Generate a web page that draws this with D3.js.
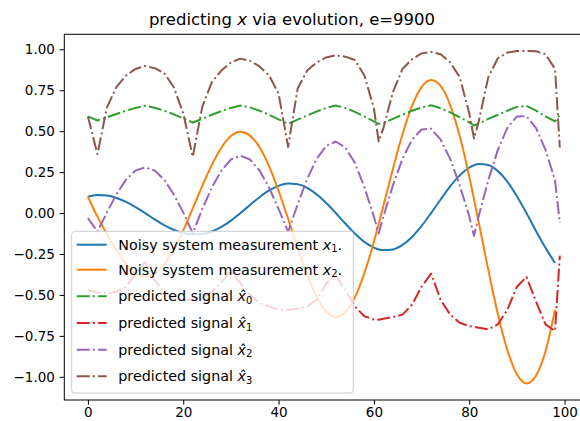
<!DOCTYPE html>
<html>
<head>
<meta charset="utf-8">
<script src="https://cdn.jsdelivr.net/npm/d3@7"></script>
<style>
  body { margin: 0; background: #fff; }
  svg { display: block; font-family: "DejaVu Sans", sans-serif; }
</style>
</head>
<body>
<div id="chart"></div>
<script>
// sample positions (time step)
const xs = [0, 2, 4, 6, 8, 10, 12, 14, 16, 18, 20, 22, 24, 26, 28, 30, 32, 34, 36, 38, 40,
    42, 44, 46, 48, 50, 52, 54, 56, 58, 60, 61, 62, 64, 66, 68, 70, 72, 74, 76, 78, 80,
    81, 82, 84, 86, 88, 90, 92, 94, 96, 98, 99];

// measured states (no sample at 99)
const x1 = [0.100, 0.110, 0.107, 0.092, 0.068, 0.036, 0.000, -0.038, -0.073, -0.102, -0.122,
    -0.130, -0.128, -0.113, -0.085, -0.046, 0.000, 0.049, 0.097, 0.138, 0.166,
    0.180, 0.176, 0.154, 0.114, 0.061, 0.000, -0.064, -0.125, -0.176, -0.211, -0.222, -0.226,
    -0.222, -0.194, -0.146, -0.079, 0.000, 0.083, 0.163, 0.230, 0.278,
    0.292, 0.299, 0.293, 0.256, 0.192, 0.103, 0.000, -0.109, -0.212, -0.305, null];
const x2 = [0.100, -0.022, -0.129, -0.229, -0.311, -0.366, -0.387, -0.369, -0.314, -0.224, -0.107,
    0.028, 0.166, 0.294, 0.399, 0.470, 0.496, 0.473, 0.402, 0.287, 0.136,
    -0.035, -0.212, -0.376, -0.511, -0.601, -0.635, -0.606, -0.515, -0.367, -0.175, -0.065, 0.045,
    0.271, 0.481, 0.654, 0.769, 0.812, 0.776, 0.659, 0.470, 0.224,
    0.085, -0.058, -0.347, -0.616, -0.837, -0.985, -1.040, -0.993, -0.844, -0.590, null];

// predicted signals
const xhat0 = [0.590, 0.565, 0.585, 0.605, 0.625, 0.642, 0.655, 0.643, 0.625, 0.603, 0.578,
    0.553, 0.575, 0.600, 0.622, 0.642, 0.657, 0.645, 0.625, 0.600, 0.572,
    0.545, 0.570, 0.596, 0.620, 0.642, 0.657, 0.642, 0.618, 0.590, 0.560, 0.545, 0.550,
    0.575, 0.600, 0.625, 0.645, 0.658, 0.640, 0.615, 0.585, 0.553,
    0.535, 0.545, 0.575, 0.600, 0.625, 0.648, 0.655, 0.625, 0.590, 0.560, 0.600];
const xhat1 = [-0.47, -0.485, -0.49, -0.48, -0.45, -0.37, -0.30, -0.41, -0.48, -0.52, -0.53,
    -0.53, -0.52, -0.48, -0.42, -0.355, -0.43, -0.50, -0.55, -0.57, -0.59,
    -0.59, -0.585, -0.57, -0.53, -0.43, -0.38, -0.47, -0.57, -0.63, -0.65, -0.652, -0.645,
    -0.635, -0.62, -0.56, -0.45, -0.37, -0.53, -0.62, -0.67, -0.69,
    -0.695, -0.70, -0.71, -0.68, -0.59, -0.45, -0.39, -0.54, -0.68, -0.72, -0.26];
const xhat2 = [-0.030, -0.114, 0.004, 0.115, 0.204, 0.260, 0.279, 0.260, 0.204, 0.115, 0.004,
    -0.124, 0.025, 0.156, 0.260, 0.327, 0.350, 0.327, 0.260, 0.156, 0.025,
    -0.114, 0.052, 0.208, 0.331, 0.410, 0.437, 0.400, 0.307, 0.159, -0.023, -0.124, -0.020,
    0.170, 0.331, 0.448, 0.510, 0.515, 0.448, 0.331, 0.170, -0.020,
    -0.140, -0.016, 0.200, 0.386, 0.520, 0.590, 0.592, 0.520, 0.386, 0.200, -0.060];
const xhat3 = [0.59, 0.36, 0.645, 0.77, 0.84, 0.88, 0.898, 0.885, 0.855, 0.77, 0.61,
    0.343, 0.65, 0.80, 0.87, 0.92, 0.943, 0.93, 0.895, 0.84, 0.73,
    0.404, 0.76, 0.87, 0.92, 0.95, 0.963, 0.955, 0.935, 0.84, 0.64, 0.437, 0.52,
    0.74, 0.88, 0.94, 0.975, 0.984, 0.97, 0.92, 0.83, 0.61,
    0.455, 0.56, 0.83, 0.945, 0.98, 0.99, 0.99, 0.988, 0.97, 0.88, 0.40];

const seriesNames = ["x1", "x2", "xhat0", "xhat1", "xhat2", "xhat3"];
const seriesValues = [x1, x2, xhat0, xhat1, xhat2, xhat3];
const legendBase = ["Noisy system measurement ", "Noisy system measurement ",
    "predicted signal ", "predicted signal ", "predicted signal ", "predicted signal "];
const legendSub = ["1", "2", "0", "1", "2", "3"];
const legendHat = [false, false, true, true, true, true];
const legendTail = [".", ".", "", "", "", ""];

const xTicks = [0, 20, 40, 60, 80, 100];
const yTicks = [-1.0, -0.75, -0.5, -0.25, 0, 0.25, 0.5, 0.75, 1.0];

const colors = ["#1f77b4", "#ff7f0e", "#2ca02c", "#d62728", "#9467bd", "#8c564b"];
const dashes = [null, null, "13,3.2,2,3.2", "13,3.2,2,3.2", "13,3.2,2,3.2", "13,3.2,2,3.2"];

const width = 580;
const height = 421;
const plot = { left: 64.3, top: 34.3, right: 583.4, bottom: 400 };

const svg = d3.select("#chart").append("svg")
    .attr("width", width)
    .attr("height", height);

const x = d3.scaleLinear().domain([-4.95, 103.95]).range([plot.left, plot.right]);
const y = d3.scaleLinear().domain([-1.1415, 1.0915]).range([plot.bottom, plot.top]);

// lines
const line = d3.line()
    .defined(d => d[1] !== null)
    .x(d => x(d[0]))
    .y(d => y(d[1]));

seriesValues.forEach((vals, i) => {
    svg.append("path")
        .attr("class", "series " + seriesNames[i])
        .datum(xs.map((t, j) => [t, vals[j]]))
        .attr("fill", "none")
        .attr("stroke", colors[i])
        .attr("stroke-width", 2)
        .attr("stroke-dasharray", dashes[i])
        .attr("stroke-linejoin", "round")
        .attr("d", line.curve(i < 2 ? d3.curveMonotoneX : d3.curveLinear));
});

// axes
const xAxis = svg.append("g")
    .attr("transform", `translate(0,${plot.bottom})`)
    .call(d3.axisBottom(x).tickValues(xTicks).tickSize(4.7).tickSizeOuter(0).tickPadding(4.5));
const yAxis = svg.append("g")
    .attr("transform", `translate(${plot.left},0)`)
    .call(d3.axisLeft(y).tickValues(yTicks).tickFormat(d3.format(".2f"))
        .tickSize(4.7).tickSizeOuter(0).tickPadding(4.7));

[xAxis, yAxis].forEach(g => {
    g.select(".domain").remove();
    g.attr("font-family", null).attr("font-size", null);
    g.selectAll(".tick line").attr("stroke", "#000").attr("stroke-width", 1);
    g.selectAll(".tick text").attr("fill", "#000").style("font-size", "13.5px");
});
// bottom labels sit right at the image edge, keep them just inside
xAxis.selectAll(".tick text").attr("dy", null).attr("y", 17.4);

svg.append("rect")
    .attr("x", plot.left)
    .attr("y", plot.top)
    .attr("width", plot.right - plot.left)
    .attr("height", plot.bottom - plot.top)
    .attr("fill", "none")
    .attr("stroke", "#000")
    .attr("stroke-width", 1);

// title
const title = svg.append("text")
    .attr("x", 292)
    .attr("y", 24.5)
    .attr("text-anchor", "middle")
    .style("font-size", "16.5px")
    .attr("fill", "#000");
title.append("tspan").text("predicting ");
title.append("tspan").style("font-style", "italic").text("x");
title.append("tspan").text(" via evolution, e=9900");

// legend
const legendRows = [244.7, 269.7, 296.3, 323, 349.7, 376.3];
const legend = svg.append("g").attr("class", "legend");
legend.append("rect")
    .attr("x", 71.7)
    .attr("y", 231.3)
    .attr("width", 281.6)
    .attr("height", 161.7)
    .attr("rx", 3)
    .attr("fill", "#fff")
    .attr("fill-opacity", 0.8)
    .attr("stroke", "#cccccc")
    .attr("stroke-width", 1);

seriesNames.forEach((name, i) => {
    const ry = legendRows[i];
    legend.append("line")
        .attr("x1", 76.7).attr("x2", 106.7)
        .attr("y1", ry).attr("y2", ry)
        .attr("stroke", colors[i])
        .attr("stroke-width", 2)
        .attr("stroke-dasharray", dashes[i]);
    const t = legend.append("text")
        .attr("x", 118.3)
        .attr("y", ry + 5)
        .style("font-size", "14.3px")
        .attr("fill", "#000");
    t.append("tspan").text(legendBase[i]);
    t.append("tspan").style("font-style", "italic")
        .text(legendHat[i] ? "x\u0302" : "x");
    t.append("tspan").attr("dy", 2.5).style("font-size", "10px").text(legendSub[i]);
    if (legendTail[i]) t.append("tspan").attr("dy", -2.5).text(legendTail[i]);
});
</script>
</body>
</html>
